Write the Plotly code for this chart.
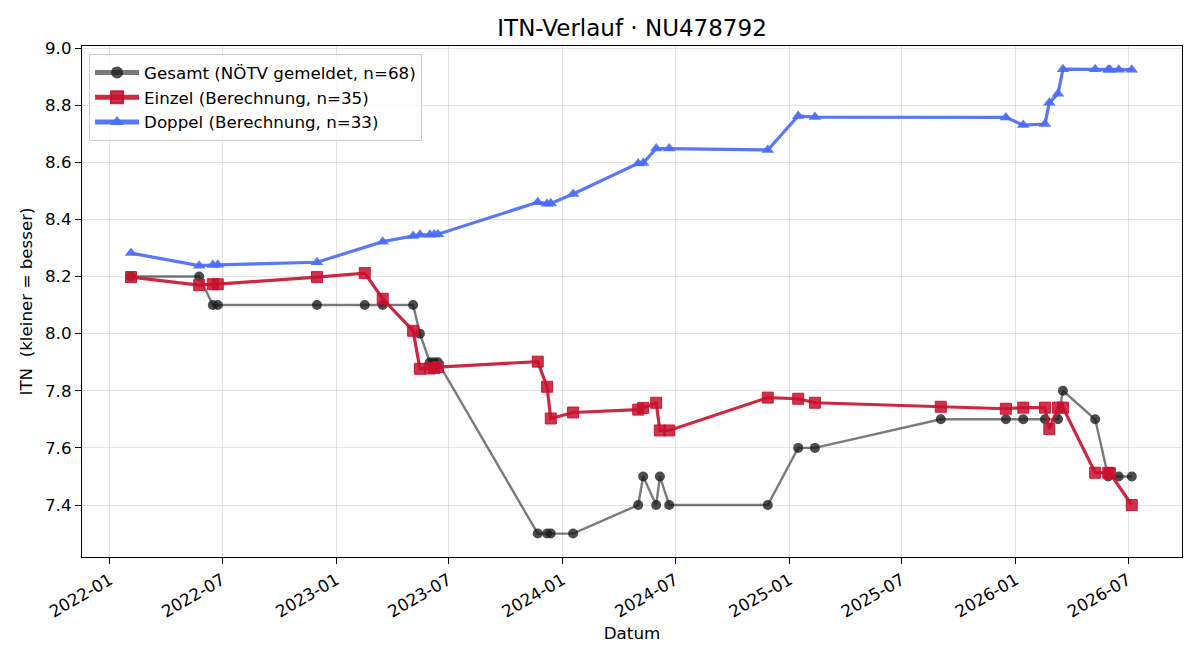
import plotly.graph_objects as go

# ---- data ----
gesamt_dates = ["2022-02-04", "2022-05-25", "2022-06-16", "2022-06-24", "2022-12-01",
                "2023-02-16", "2023-03-17", "2023-05-05", "2023-05-16", "2023-06-01",
                "2023-06-08", "2023-06-14", "2023-11-22", "2023-12-07", "2023-12-13",
                "2024-01-18", "2024-05-02", "2024-05-10", "2024-05-31", "2024-06-06",
                "2024-06-21", "2024-11-27", "2025-01-15", "2025-02-11", "2025-09-02",
                "2025-12-16", "2026-01-13", "2026-02-17", "2026-03-10", "2026-03-18",
                "2026-05-09", "2026-05-30", "2026-06-16", "2026-07-07"]
gesamt_vals = [8.2, 8.2, 8.1, 8.1, 8.1,
               8.1, 8.1, 8.1, 8.0, 7.9,
               7.9, 7.9, 7.3, 7.3, 7.3,
               7.3, 7.4, 7.5, 7.4, 7.5,
               7.4, 7.4, 7.6, 7.6, 7.7,
               7.7, 7.7, 7.7, 7.7, 7.8,
               7.7, 7.5, 7.5, 7.5]

einzel_dates = ["2022-02-04", "2022-05-25", "2022-06-16", "2022-06-24", "2022-12-01",
                "2023-02-16", "2023-03-17", "2023-05-05", "2023-05-16", "2023-06-01",
                "2023-06-08", "2023-06-14", "2023-11-22", "2023-12-07", "2023-12-13",
                "2024-01-18", "2024-05-02", "2024-05-10", "2024-05-31", "2024-06-06",
                "2024-06-21", "2024-11-27", "2025-01-15", "2025-02-11", "2025-09-02",
                "2025-12-16", "2026-01-13", "2026-02-17", "2026-02-24", "2026-03-10",
                "2026-03-18", "2026-05-09", "2026-05-30", "2026-06-02", "2026-07-07"]
einzel_vals = [8.198, 8.170, 8.173, 8.173, 8.198,
               8.212, 8.122, 8.010, 7.877, 7.878,
               7.880, 7.883, 7.902, 7.814, 7.703,
               7.724, 7.734, 7.740, 7.758, 7.661,
               7.661, 7.776, 7.772, 7.758, 7.744,
               7.737, 7.741, 7.741, 7.666, 7.741,
               7.741, 7.513, 7.513, 7.511, 7.400]

doppel_dates = ["2022-02-04", "2022-05-25", "2022-06-16", "2022-06-24", "2022-12-01",
                "2023-03-17", "2023-05-05", "2023-05-16", "2023-06-01", "2023-06-08",
                "2023-06-14", "2023-11-22", "2023-12-07", "2023-12-13", "2024-01-18",
                "2024-05-02", "2024-05-10", "2024-05-31", "2024-06-21", "2024-11-27",
                "2025-01-15", "2025-02-11", "2025-12-16", "2026-01-13", "2026-02-17",
                "2026-02-24", "2026-03-10", "2026-03-18", "2026-05-09", "2026-05-30",
                "2026-06-02", "2026-06-16", "2026-07-07"]
doppel_vals = [8.282, 8.238, 8.240, 8.241, 8.250,
               8.322, 8.342, 8.346, 8.346, 8.347,
               8.348, 8.460, 8.455, 8.456, 8.489,
               8.596, 8.597, 8.648, 8.648, 8.643,
               8.762, 8.758, 8.757, 8.730, 8.734,
               8.808, 8.840, 8.926, 8.926, 8.924,
               8.924, 8.924, 8.924]

tick_dates = ["2022-01-01", "2022-07-01", "2023-01-01", "2023-07-01", "2024-01-01",
              "2024-07-01", "2025-01-01", "2025-07-01", "2026-01-01", "2026-07-01"]
tick_labels = ["2022-01", "2022-07", "2023-01", "2023-07", "2024-01",
               "2024-07", "2025-01", "2025-07", "2026-01", "2026-07"]

FONT = "DejaVu Sans"
FS = 16.7

fig = go.Figure()
fig.add_trace(go.Scatter(
    x=gesamt_dates, y=gesamt_vals, mode="lines+markers",
    name="Gesamt (NÖTV gemeldet, n=68)",
    line=dict(color="rgba(0,0,0,0.52)", width=2.4),
    marker=dict(symbol="circle", size=10, color="rgba(25,25,25,0.78)", line=dict(width=0)),
))
fig.add_trace(go.Scatter(
    x=einzel_dates, y=einzel_vals, mode="lines+markers",
    name="Einzel (Berechnung, n=35)",
    line=dict(color="rgba(200,16,46,0.9)", width=3.2),
    marker=dict(symbol="square", size=11, color="rgba(200,16,46,0.85)",
                line=dict(width=1, color="rgba(200,16,46,0.9)")),
))
fig.add_trace(go.Scatter(
    x=doppel_dates, y=doppel_vals, mode="lines+markers",
    name="Doppel (Berechnung, n=33)",
    line=dict(color="rgba(74,108,247,0.92)", width=3.2),
    marker=dict(symbol="triangle-up", size=11, color="rgba(74,108,247,0.92)", line=dict(width=0)),
))

axis_common = dict(
    showline=True, linecolor="black", linewidth=1.2, mirror=True,
    ticks="outside", ticklen=6, tickcolor="black", tickwidth=1.2,
    showgrid=True, gridcolor="rgba(176,176,176,0.35)", gridwidth=1,
    zeroline=False,
    tickfont=dict(family=FONT, size=FS, color="black"),
)

fig.update_layout(
    width=1200, height=660,
    margin=dict(l=82, r=18, t=46, b=103),
    paper_bgcolor="white", plot_bgcolor="white",
    font=dict(family=FONT, size=FS, color="black"),
    title=dict(text="ITN-Verlauf · NU478792", x=0.5267, xanchor="center",
               y=0.958, yanchor="middle", font=dict(family=FONT, size=23, color="black")),
    xaxis=dict(
        **axis_common,
        range=["2021-11-17", "2026-09-26"],
        tickmode="array", tickvals=tick_dates, ticktext=tick_labels,
        tickangle=-30,
        title=dict(text="Datum", font=dict(family=FONT, size=FS), standoff=6),
    ),
    yaxis=dict(
        **axis_common,
        range=[7.218, 9.007],
        tickmode="array", tickvals=[7.4, 7.6, 7.8, 8.0, 8.2, 8.4, 8.6, 8.8, 9.0],
        ticktext=["7.4", "7.6", "7.8", "8.0", "8.2", "8.4", "8.6", "8.8", "9.0"],
        title=dict(text="ITN  (kleiner = besser)", font=dict(family=FONT, size=FS), standoff=8),
    ),
    legend=dict(
        x=0.0064, y=0.984, xanchor="left", yanchor="top",
        bgcolor="rgba(255,255,255,0.8)", bordercolor="rgba(204,204,204,1)", borderwidth=1,
        font=dict(family=FONT, size=FS, color="black"),
        tracegroupgap=2, itemsizing="constant", itemwidth=44,
    ),
    showlegend=True,
)

fig.write_html("out.html")
